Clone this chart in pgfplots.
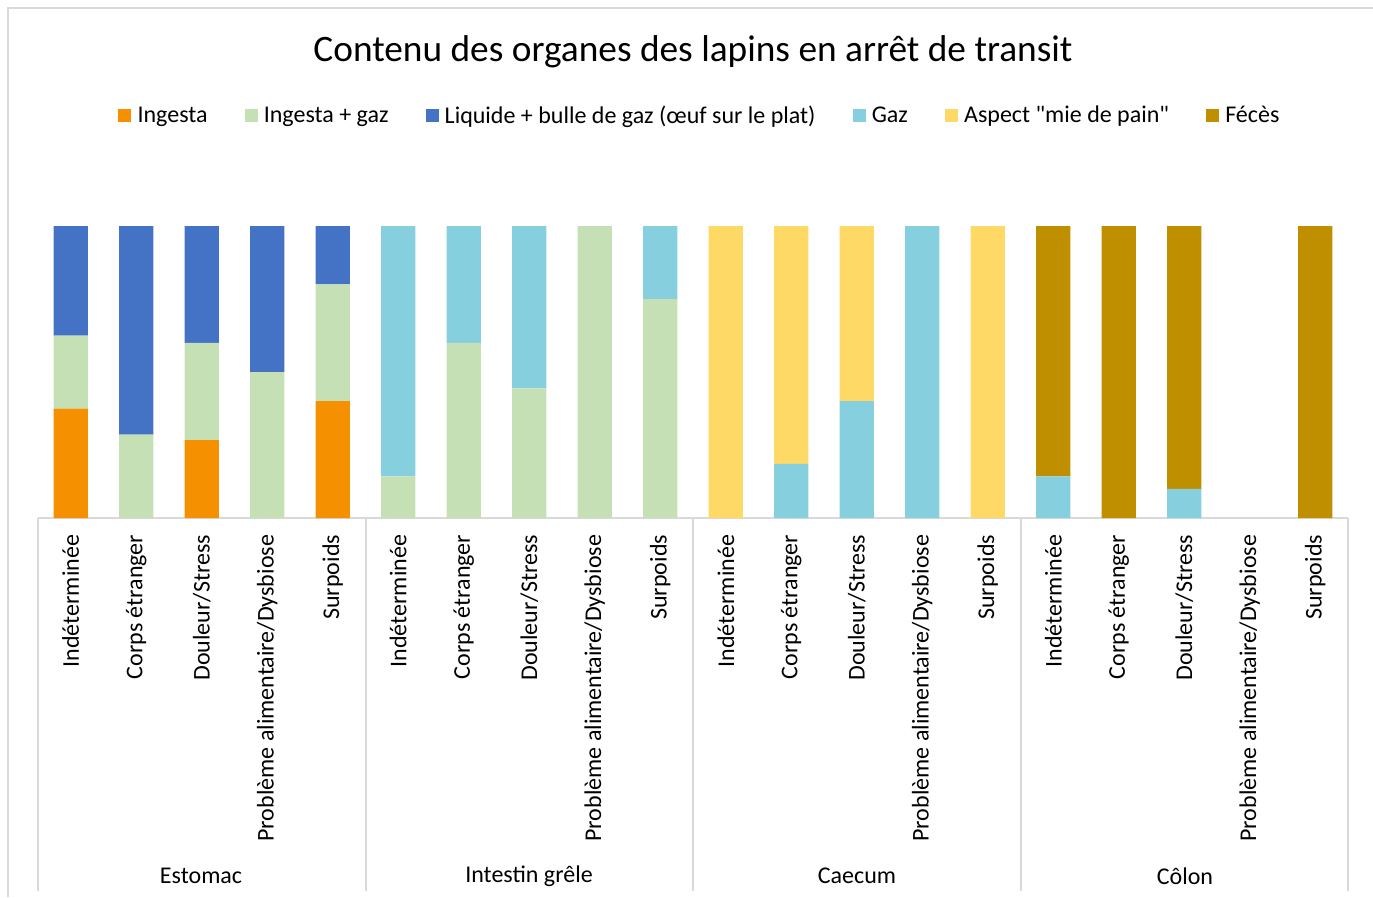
\documentclass[border=0pt]{standalone}
\usepackage{fontspec}
\setmainfont{Carlito}
\newfontfamily\nolig{Carlito}
\usepackage{pgfplots}
\usepackage{pgfplotstable}
\pgfplotsset{compat=1.18}
\definecolor{cIng}{HTML}{F59000}
\definecolor{cIngGaz}{HTML}{C5E0B4}
\definecolor{cLiq}{HTML}{4472C4}
\definecolor{cGaz}{HTML}{86CFDF}
\definecolor{cMie}{HTML}{FFD966}
\definecolor{cFec}{HTML}{BF8F00}
\definecolor{cLine}{HTML}{D9D9D9}
\pgfplotstableread{
x ingesta ingaz liq gaz mie feces
0 0.375 0.25 0.375 0 0 0
1 0 0.286 0.714 0 0 0
2 0.267 0.333 0.4 0 0 0
3 0 0.5 0.5 0 0 0
4 0.4 0.4 0.2 0 0 0
5 0 0.143 0 0.857 0 0
6 0 0.6 0 0.4 0 0
7 0 0.444 0 0.556 0 0
8 0 1 0 0 0 0
9 0 0.75 0 0.25 0 0
10 0 0 0 0 1 0
11 0 0 0 0.185 0.815 0
12 0 0 0 0.4 0.6 0
13 0 0 0 1 0 0
14 0 0 0 0 1 0
15 0 0 0 0.143 0 0.857
16 0 0 0 0 0 1
17 0 0 0 0.1 0 0.9
18 0 0 0 0 0 0
19 0 0 0 0 0 1
}\datatable
\newcommand{\lbl}{\fontsize{18}{21.6}\selectfont}
\begin{document}
\begin{tikzpicture}[x=0.75pt,y=-0.75pt]
\useasboundingbox (0,0) rectangle (1373,897);
\draw[cLine,line width=1.5pt] (8,897) -- (8,8) -- (1373,8);
\node[font=\fontsize{28}{32}\selectfont] at (693,52) {Contenu des organes des lapins en arrêt de transit};
\begin{axis}[
  at={(28.5pt,-388.5pt)}, anchor=south west,
  width=982.5pt, height=219pt, scale only axis,
  xmin=-0.5, xmax=19.5, ymin=0, ymax=1,
  ybar stacked, bar width=0.52,
  axis y line=none, axis x line*=bottom,
  x axis line style={cLine,line width=1.5pt,-},
  xtick={0,...,19}, major tick length=0pt,
  xticklabels={Indéterminée,Corps étranger,Douleur/Stress,Problème alimentaire/Dysbiose,Surpoids,
               Indéterminée,Corps étranger,Douleur/Stress,Problème alimentaire/Dysbiose,Surpoids,
               Indéterminée,Corps étranger,Douleur/Stress,Problème alimentaire/Dysbiose,Surpoids,
               Indéterminée,Corps étranger,Douleur/Stress,Problème alimentaire/Dysbiose,Surpoids},
  xticklabel style={rotate=90, anchor=east, inner sep=0pt, font=\lbl},
  xticklabel shift=12.5pt,
  legend columns=-1,
  legend style={at={(0.5045,1.378)}, anchor=center, draw=none, font=\lbl,
    /tikz/every odd column/.append style={column sep=4.6pt},
    /tikz/every even column/.append style={column sep=27.8pt},
    nodes={inner sep=0pt}},
  legend image code/.code={\fill[#1] (0pt,-4.875pt) rectangle (9.75pt,4.875pt);},
  every axis plot/.append style={draw=none},
]
\addplot[fill=cIng] table[x=x,y=ingesta]{\datatable};
\addlegendentry{Ingesta}
\addplot[fill=cIngGaz] table[x=x,y=ingaz]{\datatable};
\addlegendentry{Ingesta + gaz}
\addplot[fill=cLiq] table[x=x,y=liq]{\datatable};
\addlegendentry{Liquide + bulle de gaz (œuf sur le plat)}
\addplot[fill=cGaz] table[x=x,y=gaz]{\datatable};
\addlegendentry{Gaz}
\addplot[fill=cMie] table[x=x,y=mie]{\datatable};
\addlegendentry{Aspect {\nolig"mie de pain"}}
\addplot[fill=cFec] table[x=x,y=feces]{\datatable};
\addlegendentry{Fécès}
\end{axis}
\foreach \xx in {38,365.5,693,1020.5,1348}
  \draw[cLine,line width=1.5pt] (\xx,518) -- (\xx,891);
\node[font=\lbl] at (201,876) {Estomac};
\node[font=\lbl] at (529,876) {Intestin grêle};
\node[font=\lbl] at (857,876) {Caecum};
\node[font=\lbl] at (1185,876) {Côlon};
\end{tikzpicture}
\end{document}
